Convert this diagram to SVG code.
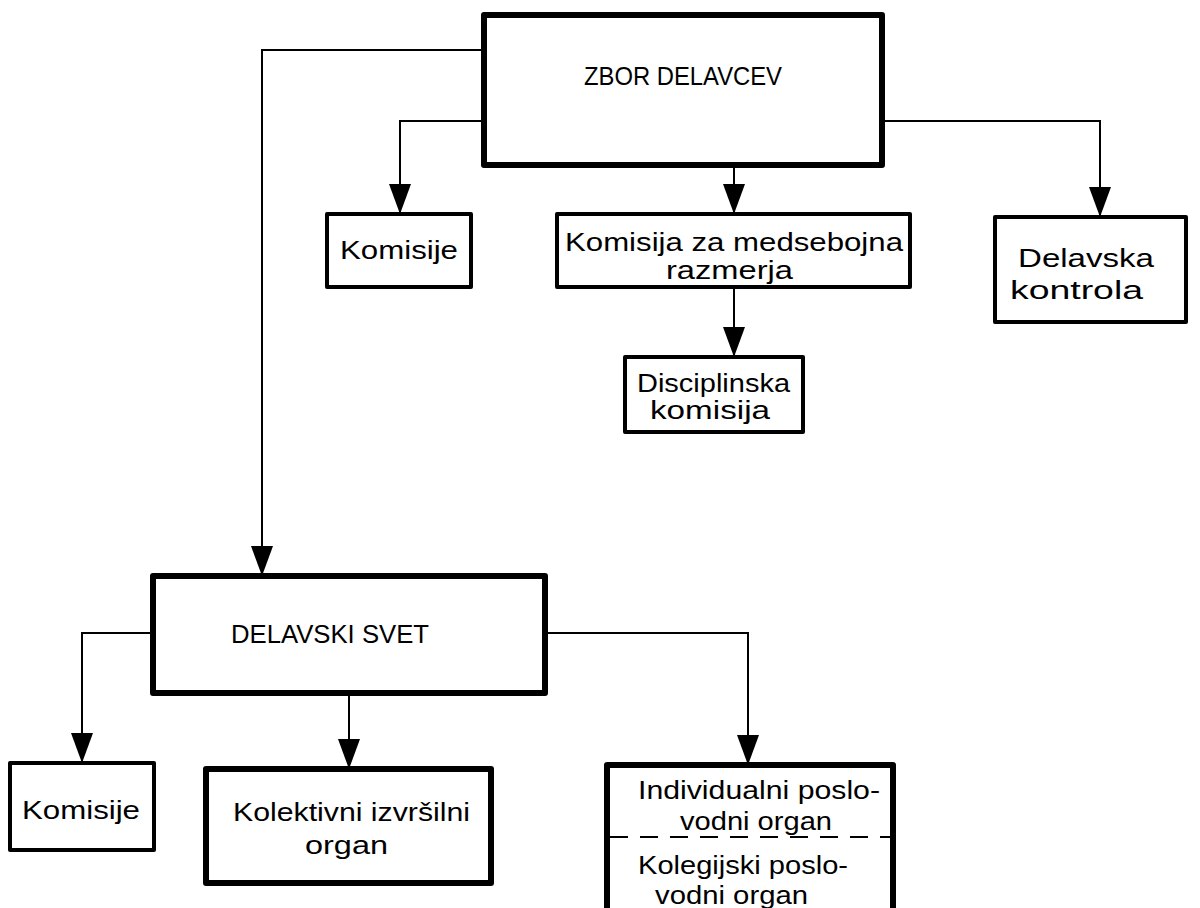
<svg xmlns="http://www.w3.org/2000/svg" width="1200" height="908" viewBox="0 0 1200 908">
<defs>
<marker id="ah" markerWidth="30" markerHeight="22" refX="30" refY="11" orient="auto" markerUnits="userSpaceOnUse" viewBox="0 0 30 22"><path d="M0,0 L30,11 L0,22 z" fill="#000"/></marker>
<style>
.box{fill:#fff;stroke:#000;stroke-linejoin:round}
.thick{stroke-width:6}
.thin{stroke-width:4}
.c{fill:none;stroke:#000;stroke-width:2;marker-end:url(#ah)}
text{font-family:"Liberation Sans","DejaVu Sans",sans-serif;font-size:25px;fill:#000}
.big{font-size:26px}
.dash{stroke:#000;stroke-width:2;stroke-dasharray:18,12}
</style>
</defs>
<rect width="1200" height="908" fill="#fff"/>
<g id="connectors">
<path class="c" d="M484,50 H262 V576"/>
<path class="c" d="M484,121 H400 V214"/>
<path class="c" d="M734,165 V214"/>
<path class="c" d="M882,121 H1100 V217"/>
<path class="c" d="M734,287 V357"/>
<path class="c" d="M153,633 H82 V763"/>
<path class="c" d="M349,693 V769"/>
<path class="c" d="M545,633 H748 V765"/>
</g>
<g id="zbor">
<rect class="box thick" x="484" y="15" width="398" height="150"/>
<text class="big" x="584" y="85" textLength="198" lengthAdjust="spacingAndGlyphs">ZBOR DELAVCEV</text>
</g>
<g id="komisije1">
<rect class="box thin" x="327" y="214" width="144" height="73"/>
<text x="340" y="259" textLength="118" lengthAdjust="spacingAndGlyphs">Komisije</text>
</g>
<g id="razmerja">
<rect class="box thin" x="557" y="214" width="353" height="73"/>
<text x="565" y="251" textLength="338" lengthAdjust="spacingAndGlyphs">Komisija za medsebojna</text>
<text x="666" y="279" textLength="127" lengthAdjust="spacingAndGlyphs">razmerja</text>
</g>
<g id="disciplinska">
<rect class="box thin" x="625" y="357" width="178" height="75"/>
<text x="637" y="392" textLength="153" lengthAdjust="spacingAndGlyphs">Disciplinska</text>
<text x="650" y="419" textLength="120" lengthAdjust="spacingAndGlyphs">komisija</text>
</g>
<g id="kontrola">
<rect class="box thin" x="995" y="217" width="191" height="105"/>
<text x="1018" y="267" textLength="136" lengthAdjust="spacingAndGlyphs">Delavska</text>
<text x="1010" y="299" textLength="133" lengthAdjust="spacingAndGlyphs">kontrola</text>
</g>
<g id="svet">
<rect class="box thick" x="153" y="576" width="392" height="117"/>
<text class="big" x="231" y="643" textLength="198" lengthAdjust="spacingAndGlyphs">DELAVSKI SVET</text>
</g>
<g id="komisije2">
<rect class="box thin" x="10" y="763" width="144" height="87"/>
<text x="22" y="819" textLength="118" lengthAdjust="spacingAndGlyphs">Komisije</text>
</g>
<g id="kolektivni">
<rect class="box thick" x="206" y="769" width="285" height="114"/>
<text x="233" y="821" textLength="237" lengthAdjust="spacingAndGlyphs">Kolektivni izvršilni</text>
<text x="305" y="854" textLength="83" lengthAdjust="spacingAndGlyphs">organ</text>
</g>
<g id="poslovodni">
<rect class="box thick" x="607" y="765" width="286" height="150"/>
<line class="dash" x1="610" y1="837" x2="890" y2="837"/>
<text x="638" y="799" textLength="242" lengthAdjust="spacingAndGlyphs">Individualni poslo-</text>
<text x="680" y="830" textLength="152" lengthAdjust="spacingAndGlyphs">vodni organ</text>
<text x="638" y="874" textLength="210" lengthAdjust="spacingAndGlyphs">Kolegijski poslo-</text>
<text x="655" y="904" textLength="153" lengthAdjust="spacingAndGlyphs">vodni organ</text>
</g>
</svg>
